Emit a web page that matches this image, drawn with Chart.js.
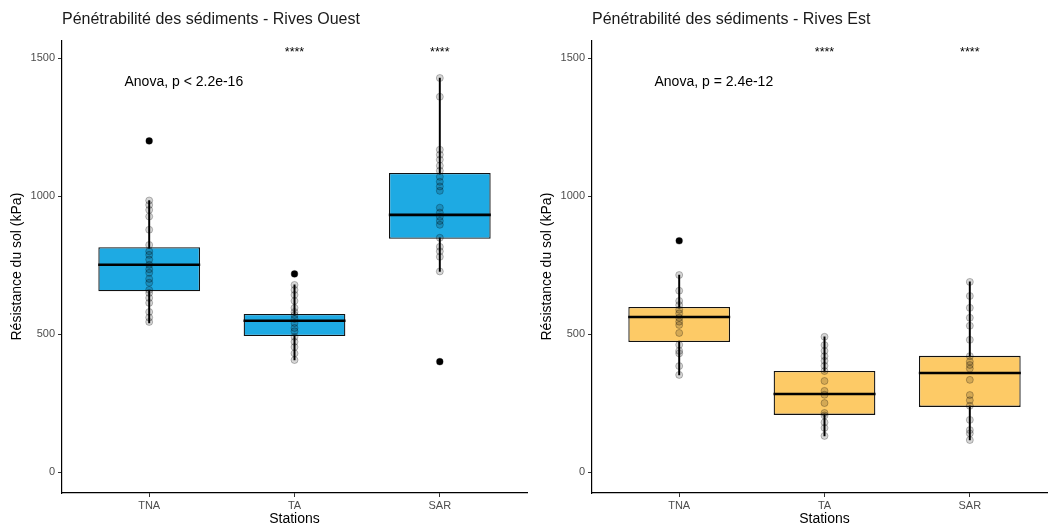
<!DOCTYPE html>
<html lang="fr">
<head>
<meta charset="utf-8">
<title>Pénétrabilité des sédiments</title>
<script src="https://cdn.jsdelivr.net/npm/chart.js@4.4.1/dist/chart.umd.min.js"></script>
<style>
  html, body { margin: 0; padding: 0; background: #fff; }
  body { width: 1048px; height: 526px; overflow: hidden; position: relative; }
  .panel { position: absolute; top: 0; width: 540px; height: 526px; }
  #panelOuest { left: 0; }
  #panelEst { left: 530px; }
</style>
</head>
<body>
<div class="panel" id="panelOuest"><canvas id="chartOuest"></canvas></div>
<div class="panel" id="panelEst"><canvas id="chartEst"></canvas></div>
<script>
const STATIONS = ["TNA", "TA", "SAR"];
const SIGNIF = ["", "****", "****"];

// Rives Ouest : moustaches, quartiles, médiane
const OUEST_LOW = [540, 406, 727];
const OUEST_Q1 = [655, 493, 845];
const OUEST_MED = [751, 548, 932];
const OUEST_Q3 = [815, 573, 1084];
const OUEST_HIGH = [984, 678, 1428];
const OUEST_OUTLIERS = [[1200], [718], [400]];
const OUEST_POINTS = [
  [984, 968, 950, 926, 878, 823, 800, 787, 770, 751, 735, 722, 700, 686, 660, 649, 631, 613, 580, 560, 544, 1200],
  [718, 678, 660, 642, 620, 595, 580, 569, 555, 540, 522, 510, 490, 472, 453, 430, 406],
  [1428, 1360, 1168, 1150, 1132, 1110, 1092, 1070, 1052, 1035, 1019, 958, 940, 925, 910, 896, 849, 816, 800, 780, 727, 400],
];

// Rives Est
const EST_LOW = [352, 131, 116];
const EST_Q1 = [471, 207, 236];
const EST_MED = [562, 283, 359];
const EST_Q3 = [598, 366, 421];
const EST_HIGH = [714, 490, 689];
const EST_OUTLIERS = [[838], [], []];
const EST_POINTS = [
  [838, 714, 657, 620, 605, 588, 575, 559, 545, 533, 504, 461, 439, 430, 384, 352],
  [490, 460, 439, 420, 403, 385, 366, 330, 294, 280, 250, 214, 205, 180, 160, 131],
  [689, 638, 595, 559, 530, 479, 420, 400, 388, 375, 334, 279, 260, 240, 189, 152, 140, 116],
];

const Y_TICKS = [0, 500, 1000, 1500];
const FONT = "'Liberation Sans', Arial, Helvetica, sans-serif";

const annotationPlugin = {
  id: "annot",
  afterDatasetsDraw(chart, args, opts) {
    const { ctx, scales } = chart;
    ctx.save();
    ctx.fillStyle = "#000";
    ctx.font = `14px ${FONT}`;
    ctx.textAlign = "left";
    ctx.textBaseline = "middle";
    ctx.fillText(opts.anova, scales.x.getPixelForValue(0.83), scales.y.getPixelForValue(1414));
    ctx.font = `12.5px ${FONT}`;
    ctx.textAlign = "center";
    SIGNIF.forEach((label, i) => {
      if (label) {
        ctx.fillText(label, scales.x.getPixelForValue(i + 1), scales.y.getPixelForValue(1520));
      }
    });
    ctx.restore();
  },
};

function flatPoints(lists) {
  return lists.flatMap((values, i) => values.map((y) => ({ x: i + 1, y })));
}

function createPanel(canvasId, title, color, low, q1, med, q3, high, outliers, points, anova) {
  new Chart(document.getElementById(canvasId), {
    type: "bar",
    data: {
      datasets: [
        {
          label: "moustaches",
          data: STATIONS.map((s, i) => ({ x: i + 1, y: [low[i], high[i]] })),
          backgroundColor: "#000",
          barThickness: 1.3,
          grouped: false,
          order: 5,
        },
        {
          label: "boîtes",
          data: STATIONS.map((s, i) => ({ x: i + 1, y: [q1[i], q3[i]] })),
          backgroundColor: color,
          borderColor: "#111",
          borderWidth: 1.3,
          borderSkipped: false,
          barPercentage: 0.7,
          categoryPercentage: 1,
          grouped: false,
          order: 4,
        },
        {
          type: "scatter",
          label: "médiane",
          data: STATIONS.map((s, i) => ({ x: i + 1, y: med[i] })),
          pointStyle: "line",
          pointRadius: 51,
          borderColor: "#000",
          borderWidth: 2.6,
          order: 3,
        },
        {
          type: "scatter",
          label: "valeurs extrêmes",
          data: flatPoints(outliers),
          pointRadius: 3.3,
          backgroundColor: "#000",
          borderColor: "#000",
          borderWidth: 0,
          order: 2,
        },
        {
          type: "scatter",
          label: "mesures",
          data: flatPoints(points),
          pointRadius: 3.5,
          backgroundColor: "rgba(0,0,0,0.16)",
          borderColor: "rgba(0,0,0,0.25)",
          borderWidth: 1,
          order: 1,
        },
      ],
    },
    options: {
      responsive: true,
      maintainAspectRatio: false,
      animation: false,
      layout: { autoPadding: false, padding: { left: 0, right: 13, top: 0, bottom: 0 } },
      plugins: {
        legend: { display: false },
        tooltip: { enabled: false },
        title: {
          display: true,
          text: title,
          align: "start",
          fullSize: false,
          color: "#1a1a1a",
          font: { family: FONT, size: 16, weight: "normal" },
          padding: { top: 10, bottom: 11 },
        },
        annot: { anova },
      },
      scales: {
        x: {
          type: "linear",
          min: 0.4,
          max: 3.6,
          offset: false,
          afterBuildTicks: (scale) => {
            scale.ticks = STATIONS.map((s, i) => ({ value: i + 1 }));
          },
          afterFit: (scale) => {
            scale.height = 33;
          },
          ticks: {
            callback: (value) => STATIONS[value - 1] ?? "",
            color: "#4d4d4d",
            font: { family: FONT, size: 11 },
            padding: 2,
            maxRotation: 0,
          },
          grid: { offset: false, drawOnChartArea: false, drawTicks: true, tickLength: 4, color: "#333" },
          border: { color: "#000", width: 1.2 },
          title: {
            display: true,
            text: "Stations",
            color: "#000",
            font: { family: FONT, size: 14 },
            padding: { top: 0, bottom: -2 },
          },
        },
        y: {
          min: -76,
          max: 1565,
          afterBuildTicks: (scale) => {
            scale.ticks = Y_TICKS.map((value) => ({ value }));
          },
          afterFit: (scale) => {
            scale.width = 62;
          },
          ticks: {
            callback: (value) => String(value),
            color: "#4d4d4d",
            font: { family: FONT, size: 11 },
            padding: 3,
          },
          grid: { drawOnChartArea: false, drawTicks: true, tickLength: 4, color: "#333" },
          border: { color: "#000", width: 1.2 },
          title: {
            display: true,
            text: "Résistance du sol (kPa)",
            color: "#000",
            font: { family: FONT, size: 14 },
            padding: { top: 9, bottom: 0 },
          },
        },
      },
    },
    plugins: [annotationPlugin],
  });
}

createPanel("chartOuest", "Pénétrabilité des sédiments - Rives Ouest", "#1eaae3",
  OUEST_LOW, OUEST_Q1, OUEST_MED, OUEST_Q3, OUEST_HIGH, OUEST_OUTLIERS, OUEST_POINTS,
  "Anova, p < 2.2e-16");
createPanel("chartEst", "Pénétrabilité des sédiments - Rives Est", "#fdca66",
  EST_LOW, EST_Q1, EST_MED, EST_Q3, EST_HIGH, EST_OUTLIERS, EST_POINTS,
  "Anova, p = 2.4e-12");
</script>
</body>
</html>
